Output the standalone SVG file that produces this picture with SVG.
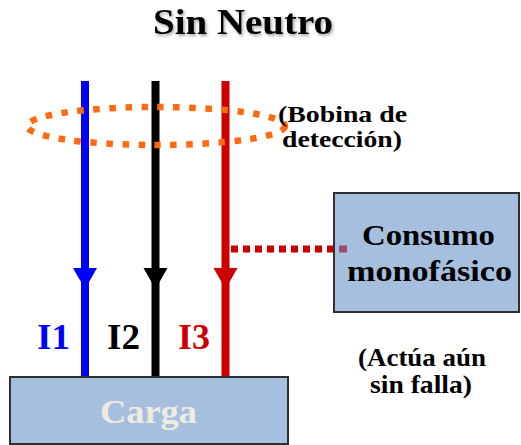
<svg xmlns="http://www.w3.org/2000/svg" width="521" height="445" viewBox="0 0 521 445">
<defs>
<style>
text{font-family:"Liberation Serif","Times New Roman",serif;font-weight:bold;}
.box{fill:#A7BFDE;stroke:#2F2F2F;stroke-width:2;}
.wire{stroke-width:8;fill:none;}
</style>
<filter id="sh" x="-10%" y="-30%" width="130%" height="180%">
<feDropShadow dx="1.5" dy="2" stdDeviation="1.5" flood-color="#000" flood-opacity="0.35"/>
</filter>
</defs>
<rect width="521" height="445" fill="#fff"/>
<text id="title" x="153" y="34" font-size="36" textLength="180" lengthAdjust="spacingAndGlyphs" filter="url(#sh)">Sin Neutro</text>
<g id="connectors">
<line class="wire" x1="85" y1="81" x2="85" y2="377" stroke="#0000FF"/>
<polygon points="73,268 97,268 85,289" fill="#0000FF"/>
<line class="wire" x1="155.5" y1="81" x2="155.5" y2="377" stroke="#000"/>
<polygon points="143.5,268 167.5,268 155.5,289" fill="#000"/>
<line class="wire" x1="225.5" y1="81" x2="225.5" y2="377" stroke="#CC0000"/>
<polygon points="213.5,268 237.5,268 225.5,289" fill="#CC0000"/>
<line x1="231" y1="249" x2="334" y2="249" stroke="#CC0000" stroke-width="7" stroke-dasharray="7 5"/>
</g>
<g id="bobina">
<ellipse cx="156" cy="126" rx="129" ry="19" fill="none" stroke="#FF6A10" stroke-width="6.5" stroke-dasharray="6.5 9.5"/>
<text x="278" y="122" font-size="24" textLength="129" lengthAdjust="spacingAndGlyphs">(Bobina de</text>
<text x="282" y="147" font-size="24" textLength="120" lengthAdjust="spacingAndGlyphs">detección)</text>
</g>
<g id="consumo">
<rect class="box" x="334" y="193" width="185" height="119"/>
<rect x="339" y="245.5" width="8" height="7" fill="#9B4D6D"/>
<text x="362" y="245" font-size="30" textLength="133" lengthAdjust="spacingAndGlyphs">Consumo</text>
<text x="347" y="281" font-size="30" textLength="165" lengthAdjust="spacingAndGlyphs">monofásico</text>
</g>
<g id="labels">
<text x="37" y="349" font-size="36" fill="#0000FF" textLength="33" lengthAdjust="spacingAndGlyphs">I1</text>
<text x="107" y="349" font-size="36" fill="#000" textLength="33" lengthAdjust="spacingAndGlyphs">I2</text>
<text x="178" y="349" font-size="36" fill="#CC0000" textLength="32" lengthAdjust="spacingAndGlyphs">I3</text>
</g>
<g id="nota">
<text x="358" y="366" font-size="25" textLength="128" lengthAdjust="spacingAndGlyphs">(Actúa aún</text>
<text x="370" y="393" font-size="25" textLength="102" lengthAdjust="spacingAndGlyphs">sin falla)</text>
</g>
<g id="carga">
<rect class="box" x="10" y="377" width="278" height="67"/>
<text x="100" y="423" font-size="34" fill="#EEECE1" textLength="97" lengthAdjust="spacingAndGlyphs">Carga</text>
</g>
</svg>
